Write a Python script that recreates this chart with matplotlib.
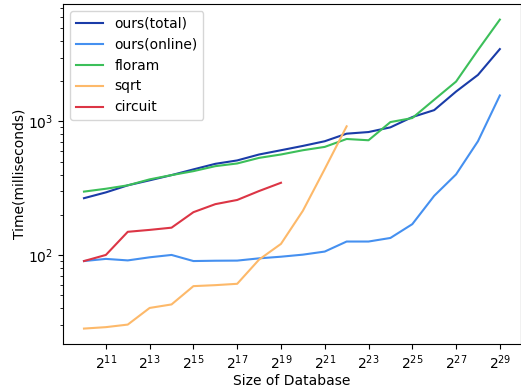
import numpy as np
import matplotlib
matplotlib.use("Agg")
import matplotlib.pyplot as plt
from matplotlib.ticker import FixedLocator, NullLocator

# Database size exponents (size = 2**exp)
exp_all = list(range(10, 30))
exp_sqrt = list(range(10, 23))
exp_circuit = list(range(10, 20))

# Running time in milliseconds
ours_total = [266, 294, 332, 362, 396, 437, 481, 510, 565, 608,
              655, 710, 809, 832, 902, 1077, 1214, 1672, 2228, 3477]
ours_online = [90, 93.4, 91, 96, 100, 90, 90.5, 90.7, 94.3, 97,
               100.5, 106, 126, 126, 134, 170, 277, 401, 710, 1563]
floram = [298, 313, 332, 368, 396, 424, 462, 484, 533, 565,
          608, 644, 738, 722, 988, 1059, 1452, 1986, 3420, 5780]
sqrt_oram = [28.1, 28.8, 30.1, 40.1, 42.6, 58.4, 59.4, 60.8, 92.3, 121,
             214, 440, 918]
circuit = [90, 100, 149, 154, 160, 209, 240, 258, 301, 347]

tick_exps = list(range(11, 30, 2))

fig = plt.figure(figsize=(5.21, 3.92), dpi=100)
ax = fig.add_axes([0.1213, 0.1224, 0.878, 0.867])

sizes_all = [2.0 ** e for e in exp_all]
ax.plot(sizes_all, ours_total, color="#1a3ca8", lw=1.5, label="ours(total)")
ax.plot(sizes_all, ours_online, color="#4590f0", lw=1.5, label="ours(online)")
ax.plot(sizes_all, floram, color="#3cbf5a", lw=1.5, label="floram")
ax.plot([2.0 ** e for e in exp_sqrt], sqrt_oram, color="#fdb96a", lw=1.5, label="sqrt")
ax.plot([2.0 ** e for e in exp_circuit], circuit, color="#dc3545", lw=1.5, label="circuit")

ax.set_xscale("log", base=2)
ax.set_yscale("log")
ax.xaxis.set_major_locator(FixedLocator([2.0 ** e for e in tick_exps]))
ax.xaxis.set_minor_locator(NullLocator())
ax.set_xticklabels([f"$2^{{{e}}}$" for e in tick_exps])

ax.set_xlabel("Size of Database", labelpad=1.5)
ax.set_ylabel("Time(milliseconds)", labelpad=1.5)
ax.legend(loc="upper left")

fig.savefig("out.png", dpi=100)
